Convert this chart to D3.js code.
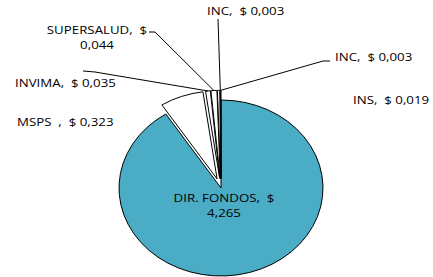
<!DOCTYPE html>
<html>
<head>
<meta charset="utf-8" />
<script src="https://d3js.org/d3.v7.min.js"></script>
<style>
  body { margin: 0; background: #fff; }
  text { font-family: "Open Sans", sans-serif; font-size: 10.3px; fill: #000; }
</style>
</head>
<body>
<div id="canvas"></div>
<script>
// datos (millones de pesos)
var names  = ["DIR. FONDOS", "MSPS", "INVIMA", "SUPERSALUD", "INS", "INC", "INC"];
var values = [4.265, 0.323, 0.035, 0.044, 0.019, 0.003, 0.003];
var labels = [
  ["DIR. FONDOS,  $", "4,265"],
  ["MSPS  ,  $ 0,323"],
  ["INVIMA,  $ 0,035"],
  ["SUPERSALUD,  $", "0,044"],
  ["INS,  $ 0,019"],
  ["INC,  $ 0,003"],
  ["INC,  $ 0,003"]
];
var colors = ["#4BACC6", "#fff", "#fff", "#fff", "#fff", "#fff", "#fff"];

var width = 433, height = 277;
var cx = 221, cy = 188, rx = 102, ry = 88; // el grafico original esta achatado
var textScale = 1.29;
var explode = [0, 0.11, 0.11, 0.11, 0.11, 0.11, 0.11];

// posicion de etiquetas: [x, y baseline, anchor, linea guia]
var labelPos = [
  [224, 202, "middle", null],
  [17, 126, "start", null],
  [15, 87, "start", [[83, 71], [95, 72]]],
  [97, 34, "middle", [[149, 32], [155, 32]]],
  [353, 104, "start", null],
  [207, 15, "start", [[218, 19]]],
  [335, 61, "start", [[330, 61], [323, 61]]]
];

var svg = d3.select("#canvas").append("svg")
  .attr("width", width).attr("height", height);

var pie = d3.pie().sort(null).value(function(d){ return d; });
var arcs = pie(values);
var arc = d3.arc().innerRadius(0).outerRadius(1);

function offset(d, i) {
  var m = (d.startAngle + d.endAngle) / 2;
  return [Math.sin(m) * explode[i], -Math.cos(m) * explode[i]];
}

var g = svg.append("g")
  .attr("transform", "translate(" + cx + "," + cy + ") scale(" + rx + "," + ry + ")");

g.selectAll("path")
  .data(arcs)
  .enter()
  .append("path")
  .attr("transform", function(d, i){
    var o = offset(d, i);
    return "translate(" + o[0] + "," + o[1] + ")";
  })
  .attr("d", arc)
  .attr("fill", function(d, i){ return colors[i]; })
  .attr("stroke", "#000")
  .attr("stroke-width", 1)
  .attr("vector-effect", "non-scaling-stroke");

// lineas guia hasta el borde exterior de cada porcion
var line = d3.line();
arcs.forEach(function(d, i){
  var p = labelPos[i];
  if (!p[3]) return;
  var o = offset(d, i);
  var m = (d.startAngle + d.endAngle) / 2;
  var end = [cx + (Math.sin(m) + o[0]) * rx, cy + (-Math.cos(m) + o[1]) * ry];
  svg.append("path")
    .attr("d", line(p[3].concat([end])))
    .attr("fill", "none")
    .attr("stroke", "#000")
    .attr("stroke-width", 1);
});

// etiquetas (texto estirado en horizontal como el original)
arcs.forEach(function(d, i){
  var p = labelPos[i];
  var t = svg.append("text")
    .attr("transform", "translate(" + p[0] + "," + p[1] + ") scale(" + textScale + ",1)")
    .attr("text-anchor", p[2]);
  labels[i].forEach(function(s, k){
    t.append("tspan").attr("x", 0).attr("dy", k === 0 ? 0 : 15)
      .text(s.replace(/ /g, "\u00a0"));
  });
});
</script>
</body>
</html>
